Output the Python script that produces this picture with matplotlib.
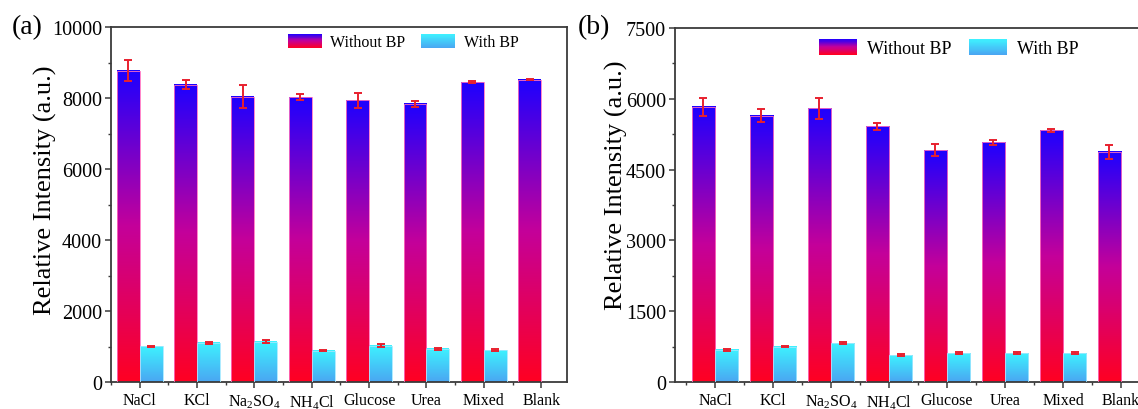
import numpy as np
import matplotlib
matplotlib.use("Agg")
import matplotlib.pyplot as plt
from matplotlib.colors import LinearSegmentedColormap
from matplotlib.patches import Rectangle
from matplotlib.legend_handler import HandlerBase
from matplotlib.ticker import MultipleLocator, FixedLocator

plt.rcParams['font.family'] = ['Liberation Serif', 'DejaVu Serif']
plt.rcParams['mathtext.fontset'] = 'custom'
plt.rcParams['mathtext.rm'] = 'Liberation Serif'
plt.rcParams['mathtext.default'] = 'regular'

# data
categories = ['NaCl', 'KCl', r'Na$_2$SO$_4$', r'NH$_4$Cl', 'Glucose', 'Urea', 'Mixed', 'Blank']

a_without = [8770, 8370, 8040, 8020, 7930, 7835, 8445, 8520]
a_without_err = [300, 130, 330, 80, 200, 85, 20, 15]
a_with = [1005, 1100, 1135, 885, 1025, 930, 900, 0]
a_with_err = [20, 20, 50, 20, 50, 30, 20, 0]

b_without = [5830, 5640, 5800, 5415, 4910, 5075, 5335, 4875]
b_without_err = [190, 140, 220, 70, 130, 55, 30, 150]
b_with = [678, 748, 826, 572, 614, 614, 607, 0]
b_with_err = [15, 15, 25, 15, 25, 20, 20, 0]

# colours
red_cmap = LinearSegmentedColormap.from_list('rb', ['#ff0022', '#c4009a', '#1e00ff'])
cyan_cmap = LinearSegmentedColormap.from_list('cy', ['#4aa6f2', '#3ef2ff'])
err_col = '#e8202e'
spine_col = '#3a3a3a'


class GradHandler(HandlerBase):
    # legend patch drawn as stacked strips so it shows the gradient
    def __init__(self, cmap):
        super().__init__()
        self.cmap = cmap

    def create_artists(self, legend, orig_handle, xdescent, ydescent,
                       width, height, fontsize, trans):
        n = 30
        arts = []
        for i in range(n):
            r = Rectangle((-xdescent, -ydescent + height * i / n), width, height / n * 1.1,
                          facecolor=self.cmap(i / (n - 1)), edgecolor='none', transform=trans)
            arts.append(r)
        return arts


def gradient_bars(ax, x, vals, cmap, edge):
    bars = ax.bar(x, vals, width=0.4, align='edge', facecolor='none',
                  edgecolor=edge, linewidth=0.6, zorder=3)
    grad = np.linspace(0, 1, 256).reshape(-1, 1)
    for rect in bars.patches:
        h = rect.get_height()
        if h <= 0:
            continue
        x0 = rect.get_x()
        ax.imshow(grad, extent=(x0, x0 + rect.get_width(), 0, h), origin='lower',
                  cmap=cmap, aspect='auto', zorder=2, interpolation='bilinear')
    return bars


def panel(ax, without, without_err, with_, with_err, ymax, ystep, xlim,
          label, label_xy, leg_xy, leg_fs, ylab_xy):
    x = np.arange(len(categories))
    gradient_bars(ax, x - 0.4, without, red_cmap, '#ff70c0')
    gradient_bars(ax, x, with_, cyan_cmap, '#a0e8ff')
    ax.errorbar(x - 0.2, without, yerr=without_err, fmt='none', ecolor=err_col,
                elinewidth=1.4, capsize=2.6, capthick=1.4, zorder=4)
    wx = [xi + 0.2 for xi, v in zip(x, with_) if v > 0]
    wv = [v for v in with_ if v > 0]
    we = [e for e, v in zip(with_err, with_) if v > 0]
    ax.errorbar(wx, wv, yerr=we, fmt='none', ecolor=err_col,
                elinewidth=1.4, capsize=2.6, capthick=1.4, zorder=4)

    ax.set_xlim(*xlim)
    ax.set_ylim(0, ymax)
    ax.set_xticks(x)
    ax.set_xticklabels(categories, fontsize=11.5)
    ax.xaxis.set_minor_locator(FixedLocator(np.arange(-0.5, len(categories), 1.0)))
    ax.yaxis.set_major_locator(MultipleLocator(ystep))
    ax.yaxis.set_minor_locator(MultipleLocator(ystep / 2))
    ax.tick_params(axis='y', labelsize=14.5)
    ax.tick_params(which='major', direction='out', length=4.5, width=1.1, color=spine_col, pad=2)
    ax.tick_params(which='minor', direction='out', length=2.5, width=1.0, color=spine_col)
    ax.tick_params(axis='x', which='major', pad=3)
    for s in ax.spines.values():
        s.set_color(spine_col)
        s.set_linewidth(1.3)
    ax.set_ylabel('Relative Intensity (a.u.)', fontsize=19)
    ax.yaxis.set_label_coords(*ylab_xy)

    h1 = Rectangle((0, 0), 1, 1)
    h2 = Rectangle((0, 0), 1, 1)
    ax.legend([h1, h2], ['Without BP', 'With BP'], ncol=2, frameon=False,
              loc='center left', bbox_to_anchor=leg_xy, bbox_transform=fig.transFigure,
              fontsize=leg_fs, handlelength=2.1, handleheight=1.0, handletextpad=0.55,
              columnspacing=1.0, borderpad=0, borderaxespad=0,
              handler_map={h1: GradHandler(red_cmap), h2: GradHandler(cyan_cmap)})
    fig.text(label_xy[0], label_xy[1], label, fontsize=20, ha='left', va='center')


fig = plt.figure(figsize=(11.38, 4.10), dpi=100)
W, H = 1138.0, 410.0

ax1 = fig.add_axes([111 / W, 27 / H, 456 / W, 355 / H])
panel(ax1, a_without, a_without_err, a_with, a_with_err, 10000, 2000, (-0.5, 7.45),
      '(a)', (12 / W, 1 - 28 / H), (288 / W, 1 - 43 / H), 11.5, (-0.118, 0.544))

ax2 = fig.add_axes([675 / W, 27 / H, 475 / W, 354 / H])
panel(ax2, b_without, b_without_err, b_with, b_with_err, 7500, 1500, (-0.69, 7.5),
      '(b)', (578 / W, 1 - 28 / H), (819 / W, 1 - 49 / H), 13, (-0.099, 0.558))

fig.savefig('out.png', dpi=100)
